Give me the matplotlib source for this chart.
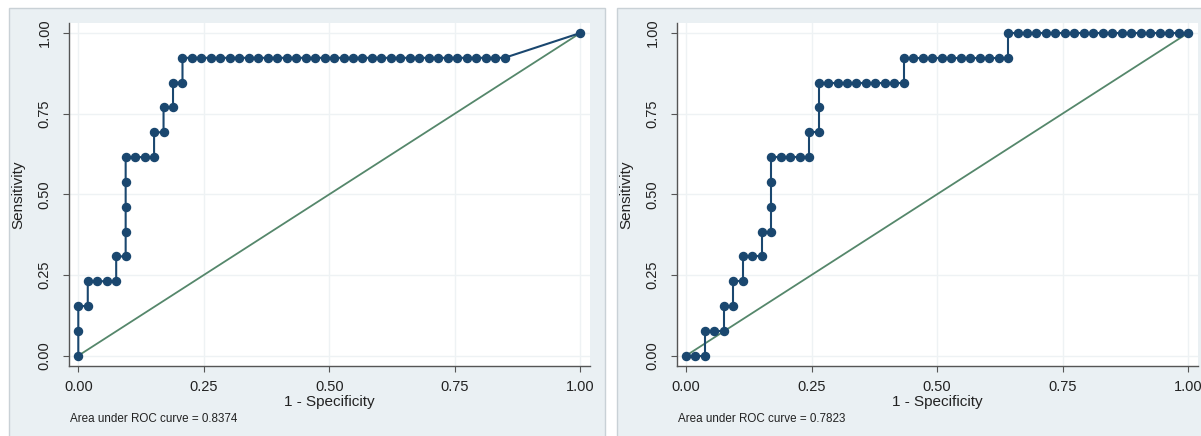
import numpy as np
import matplotlib.pyplot as plt
from matplotlib.patches import Rectangle

plt.rcParams['font.family'] = ['Liberation Sans', 'DejaVu Sans']

# ROC points as counts: false positives out of 53 negatives, true positives out of 13 positives
n_neg = 53
n_pos = 13

fp_a = [0, 0, 0, 1, 1, 2, 3, 4, 4, 5, 5, 5, 5, 5, 6, 7, 8, 8, 9, 9, 10, 10, 11, 11,
        12, 13, 14, 15, 16, 17, 18, 19, 20, 21, 22, 23, 24, 25, 26, 27, 28, 29, 30,
        31, 32, 33, 34, 35, 36, 37, 38, 39, 40, 41, 42, 43, 44, 45, 53]
tp_a = [0, 1, 2, 2, 3, 3, 3, 3, 4, 4, 5, 6, 7, 8, 8, 8, 8, 9, 9, 10, 10, 11, 11, 12,
        12, 12, 12, 12, 12, 12, 12, 12, 12, 12, 12, 12, 12, 12, 12, 12, 12, 12, 12,
        12, 12, 12, 12, 12, 12, 12, 12, 12, 12, 12, 12, 12, 12, 12, 13]

fp_b = [0, 1, 2, 2, 3, 4, 4, 5, 5, 6, 6, 7, 8, 8, 9, 9, 9, 9, 10, 11, 12, 13, 13,
        14, 14, 14, 15, 16, 17, 18, 19, 20, 21, 22, 23, 23, 24, 25, 26, 27, 28, 29,
        30, 31, 32, 33, 34, 34, 35, 36, 37, 38, 39, 40, 41, 42, 43, 44, 45, 46, 47,
        48, 49, 50, 51, 52, 53]
tp_b = [0, 0, 0, 1, 1, 1, 2, 2, 3, 3, 4, 4, 4, 5, 5, 6, 7, 8, 8, 8, 8, 8, 9,
        9, 10, 11, 11, 11, 11, 11, 11, 11, 11, 11, 11, 12, 12, 12, 12, 12, 12, 12,
        12, 12, 12, 12, 12, 13, 13, 13, 13, 13, 13, 13, 13, 13, 13, 13, 13, 13, 13,
        13, 13, 13, 13, 13, 13]

auc_labels = ["Area under ROC curve = 0.8374", "Area under ROC curve = 0.7823"]
ticks = [0, 0.25, 0.5, 0.75, 1.0]
tick_labels = ["0.00", "0.25", "0.50", "0.75", "1.00"]

W, H = 1201, 436
navy = '#1a476f'
green = '#55876b'
panel_bg = '#eaf0f3'

fig = plt.figure(figsize=(W / 100, H / 100), dpi=100, facecolor='white')


def px_rect(x0, y0, x1, y1):
    # pixel box (top-left origin) -> figure fraction [left, bottom, width, height]
    return [x0 / W, 1 - y1 / H, (x1 - x0) / W, (y1 - y0) / H]


def panel(x0, x1, box, x_zero, fp, tp, note):
    l, b, w, h = px_rect(x0, 8, x1, 440)
    fig.patches.append(Rectangle((l, b), w, h, transform=fig.transFigure,
                                 facecolor=panel_bg, edgecolor='#c9d1d6', lw=1, zorder=-10))
    ax = fig.add_axes(px_rect(*box))
    ax.set_zorder(1)
    ax.set_facecolor('white')
    x = np.array(fp) / n_neg
    y = np.array(tp) / n_pos
    ax.plot([0, 1], [0, 1], color=green, lw=1.3, zorder=2)
    ax.plot(x, y, color=navy, lw=1.5, marker='o', markersize=5.8,
            markerfacecolor=navy, markeredgecolor=navy, zorder=3, clip_on=False)
    # about 502 px per unit on x
    ax.set_xlim((box[0] - x_zero) / 502.0, (box[2] - x_zero) / 502.0)
    ax.set_ylim(-0.032, 1.031)
    ax.set_xticks(ticks, tick_labels)
    ax.set_yticks(ticks, tick_labels)
    ax.tick_params(axis='both', length=4.5, width=0.8, color='#555555',
                   labelsize=10.5, labelcolor='#222222')
    ax.tick_params(axis='x', pad=5.5)
    ax.tick_params(axis='y', pad=8)
    for lab in ax.get_yticklabels():
        lab.set_rotation(90)
        lab.set_va('center')
    ax.grid(True, color='#eef2f4', lw=1)
    ax.set_axisbelow(True)
    for s in ['top', 'right']:
        ax.spines[s].set_visible(False)
    for s in ['left', 'bottom']:
        ax.spines[s].set_color('#555555')
        ax.spines[s].set_linewidth(1)
    ax.set_xlabel("1 - Specificity", fontsize=11, color='#222222')
    ax.set_ylabel("Sensitivity", fontsize=11, color='#222222')
    ax.xaxis.set_label_coords(0.5, (box[3] - 402) / (box[3] - box[1]))
    ax.yaxis.set_label_coords((x0 + 9 - box[0]) / (box[2] - box[0]), 0.5)
    ax.xaxis.label.set_va('center')
    ax.yaxis.label.set_va('center')
    fig.text((x0 + 61) / W, 1 - 419 / H, note, fontsize=8.4, color='#222222',
             va='center', ha='left')
    return ax


panel(9, 605, (69, 23, 590, 366), 78.3, fp_a, tp_a, auc_labels[0])
panel(617, 1210, (677, 23, 1198, 366), 686.0, fp_b, tp_b, auc_labels[1])

fig.savefig('out.png', dpi=100, facecolor='white')
